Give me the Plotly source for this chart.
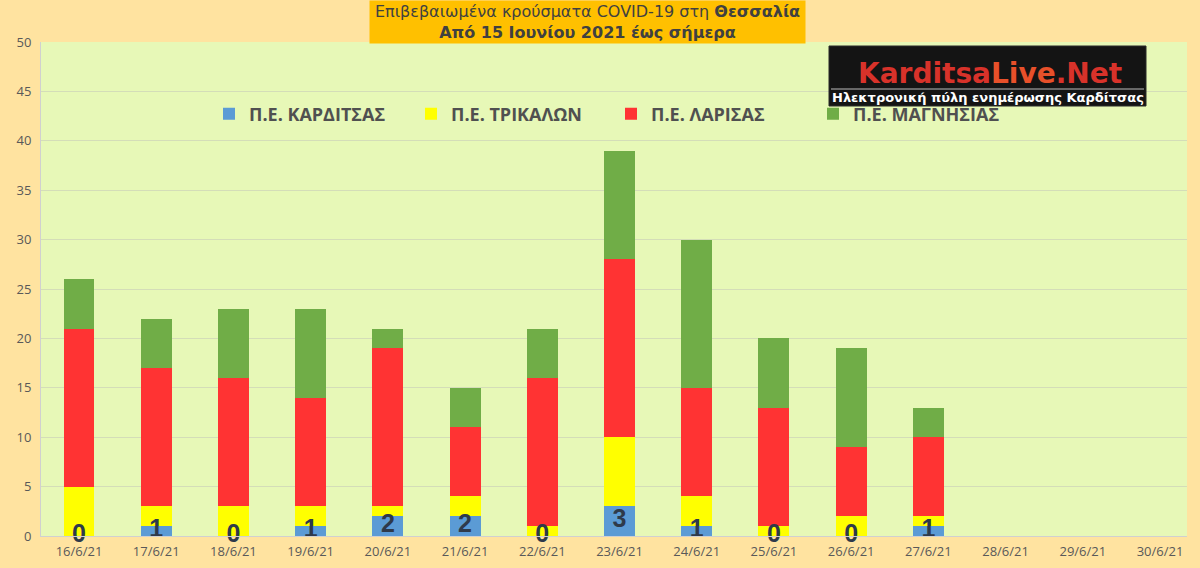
import plotly.graph_objects as go

dates = ["16/6/21", "17/6/21", "18/6/21", "19/6/21", "20/6/21", "21/6/21", "22/6/21",
         "23/6/21", "24/6/21", "25/6/21", "26/6/21", "27/6/21", "28/6/21", "29/6/21", "30/6/21"]
karditsa = [0, 1, 0, 1, 2, 2, 0, 3, 1, 0, 0, 1, None, None, None]
trikala = [5, 2, 3, 2, 1, 2, 1, 7, 3, 1, 2, 1, None, None, None]
larisa = [16, 14, 13, 11, 16, 7, 15, 18, 11, 12, 7, 8, None, None, None]
magnisia = [5, 5, 7, 9, 2, 4, 5, 11, 15, 7, 10, 3, None, None, None]

series_names = ["Π.Ε. ΚΑΡΔΙΤΣΑΣ", "Π.Ε. ΤΡΙΚΑΛΩΝ", "Π.Ε. ΛΑΡΙΣΑΣ", "Π.Ε. ΜΑΓΝΗΣΙΑΣ"]
series_colors = ["#5B9BD5", "#FFFF00", "#FF3333", "#70AD47"]

W, H = 1200, 568
ML, MR, MT, MB = 41, 13, 42, 32
PW, PH = W - ML - MR, H - MT - MB


def px_x(x):
    return (x - ML) / PW


def px_y(y):
    return (H - MB - y) / PH


legend_ids = ["legend", "legend2", "legend3", "legend4"]
legend_px = [209, 411, 611, 813]

fig = go.Figure()
for name, vals, col, lid in zip(series_names, [karditsa, trikala, larisa, magnisia], series_colors, legend_ids):
    fig.add_trace(go.Bar(x=dates, y=vals, name=name, legend=lid,
                         marker=dict(color=col, line=dict(width=0))))

# Karditsa data labels centred in its segment
lab_x = [d for d, k in zip(dates, karditsa) if k is not None]
lab_y = [k / 2 for k in karditsa if k is not None]
lab_t = [str(k) for k in karditsa if k is not None]
fig.add_trace(go.Scatter(x=lab_x, y=lab_y, text=lab_t, mode="text", showlegend=False,
                         textposition="middle center", cliponaxis=False, hoverinfo="skip",
                         textfont=dict(family="Liberation Sans", size=25, color="#2E3A4B", weight="bold")))

legend_common = dict(orientation="h", yanchor="middle", xanchor="left", y=px_y(114),
                     bgcolor="rgba(0,0,0,0)", itemwidth=30,
                     font=dict(family="Open Sans", size=18, color="#505050", weight="bold"))
legends = {lid: dict(legend_common, x=px_x(xp)) for lid, xp in zip(legend_ids, legend_px)}

# category centres: 16/6 at 79px, 30/6 at 1160px
step = (1160 - 79) / 14
fig.update_layout(
    width=W, height=H,
    barmode="stack", bargap=0.6,
    margin=dict(l=ML, r=MR, t=MT, b=MB, autoexpand=False),
    paper_bgcolor="#FFE3A0", plot_bgcolor="#E7F8B7",
    font=dict(family="Open Sans", color="#595959"),
    xaxis=dict(type="category", tickfont=dict(size=13, color="#595959"), showgrid=False,
               range=[-(79 - ML) / step, 14 + (W - MR - 1160) / step], ticklabelstandoff=3,
               showline=True, linecolor="#D0D0D0", ticks=""),
    yaxis=dict(range=[0, 50], dtick=5, gridcolor="#D4DDB8", gridwidth=1, zeroline=False,
               showline=True, linecolor="#D0D0D0",
               tickfont=dict(size=13, color="#595959"), ticklabelstandoff=6),
    **legends,
)

# title box
fig.add_annotation(xref="paper", yref="paper", x=px_x(587), y=px_y(0), xanchor="center", yanchor="top",
                   text="Επιβεβαιωμένα κρούσματα COVID-19 στη <b>Θεσσαλία</b><br><b>Από 15 Ιουνίου 2021 έως σήμερα</b>",
                   showarrow=False, bgcolor="#FFC000", width=431, height=38, borderpad=2,
                   font=dict(family="DejaVu Sans", size=16, color="#404040"), align="center")

# logo box
fig.add_shape(type="rect", xref="paper", yref="paper", x0=px_x(829), x1=px_x(1146), y0=px_y(106), y1=px_y(46),
              fillcolor="#141414", line=dict(color="#2a2a2a", width=1), layer="above")
fig.add_shape(type="line", xref="paper", yref="paper", x0=px_x(831), x1=px_x(1144), y0=px_y(89), y1=px_y(89),
              line=dict(color="#BBBBBB", width=1), layer="above")
fig.add_annotation(xref="paper", yref="paper", x=px_x(990), y=px_y(74), xanchor="center", yanchor="middle",
                   text="Karditsa<span style='color:#E8502A'>Live</span>.Net", showarrow=False,
                   font=dict(family="DejaVu Sans", size=28, color="#D8322A", weight="bold"))
fig.add_annotation(xref="paper", yref="paper", x=px_x(988), y=px_y(97), xanchor="center", yanchor="middle",
                   text="Ηλεκτρονική πύλη ενημέρωσης Καρδίτσας", showarrow=False,
                   font=dict(family="DejaVu Sans", size=13, color="#FFFFFF", weight="bold"))

fig.write_html("out.html", config={"displayModeBar": False},
               post_script="document.body.style.margin='0';document.body.style.background='#FFE3A0';")
